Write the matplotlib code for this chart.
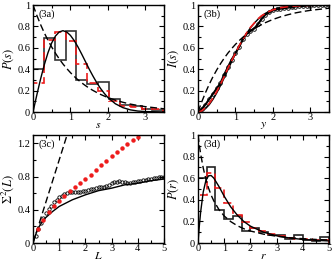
import matplotlib
matplotlib.use("Agg")
import matplotlib.pyplot as plt
from matplotlib.ticker import MultipleLocator, FormatStrFormatter

plt.rcParams["font.family"] = "Liberation Serif"
plt.rcParams["mathtext.fontset"] = "stix"
plt.rcParams["font.size"] = 7.5

# ---- (3a) spacing distribution ----
s_edges = [0, 0.29, 0.58, 0.87, 1.16, 1.45, 1.74, 2.03, 2.32, 2.61, 2.9, 3.19, 3.48]
hist_a_black = [0.40, 0.69, 0.49, 0.76, 0.30, 0.26, 0.28, 0.12, 0.07, 0.06, 0.03, 0.02]
hist_a_red = [0.27, 0.67, 0.75, 0.66, 0.45, 0.27, 0.20, 0.10, 0.06, 0.05, 0.03, 0.03]
s_curve = [0, 0.1, 0.2, 0.3, 0.4, 0.5, 0.6, 0.7, 0.8, 0.9, 1.0, 1.1, 1.2, 1.3, 1.4,
           1.5, 1.6, 1.7, 1.8, 1.9, 2.0, 2.2, 2.4, 2.6, 2.8, 3.0, 3.5]
wigner_a = [0, 0.156, 0.305, 0.439, 0.554, 0.646, 0.710, 0.748, 0.760, 0.748, 0.716,
            0.668, 0.609, 0.542, 0.472, 0.402, 0.337, 0.276, 0.222, 0.176, 0.136,
            0.077, 0.041, 0.020, 0.009, 0.004, 0.0004]
poisson_a = [1, 0.905, 0.819, 0.741, 0.670, 0.607, 0.549, 0.497, 0.449, 0.407, 0.368,
             0.333, 0.301, 0.273, 0.247, 0.223, 0.202, 0.183, 0.165, 0.150, 0.135,
             0.111, 0.091, 0.074, 0.061, 0.050, 0.030]

# ---- (3b) cumulative distribution ----
wigner_b = [0, 0.008, 0.031, 0.068, 0.118, 0.178, 0.246, 0.319, 0.395, 0.471, 0.544,
            0.613, 0.677, 0.735, 0.786, 0.829, 0.866, 0.897, 0.922, 0.941, 0.957,
            0.978, 0.989, 0.995, 0.998, 0.999, 1.0]
poisson_b = [0, 0.095, 0.181, 0.259, 0.330, 0.393, 0.451, 0.503, 0.551, 0.593, 0.632,
             0.667, 0.699, 0.727, 0.753, 0.777, 0.798, 0.817, 0.835, 0.850, 0.865,
             0.889, 0.909, 0.926, 0.939, 0.950, 0.970]
red_b = [0, 0.01, 0.04, 0.08, 0.13, 0.19, 0.26, 0.33, 0.41, 0.48, 0.55, 0.62, 0.68,
         0.74, 0.79, 0.83, 0.87, 0.90, 0.92, 0.94, 0.955, 0.975, 0.985, 0.99, 0.995,
         0.998, 0.999]
s_data = [0, 0.1, 0.2, 0.3, 0.4, 0.5, 0.6, 0.7, 0.8, 0.9, 1.0, 1.1, 1.2, 1.3, 1.4, 1.5,
          1.6, 1.7, 1.8, 1.9, 2.0, 2.1, 2.2, 2.3, 2.4, 2.5, 2.6, 2.7, 2.8, 2.9, 3.0,
          3.1, 3.2, 3.3, 3.4, 3.5]
cum_data = [0, 0.03, 0.07, 0.12, 0.17, 0.22, 0.27, 0.35, 0.42, 0.49, 0.55, 0.61, 0.68,
            0.73, 0.76, 0.78, 0.82, 0.87, 0.91, 0.93, 0.95, 0.96, 0.965, 0.97, 0.975,
            0.98, 0.985, 0.99, 0.99, 0.995, 0.995, 1.0, 1.0, 1.0, 1.0, 1.0]

# ---- (3c) number variance ----
L_poisson = [0, 1.4]
sig_poisson = [0, 1.4]
L_goe = [0, 0.05, 0.1, 0.2, 0.3, 0.4, 0.5, 0.75, 1.0, 1.5, 2.0, 2.5, 3.0, 3.5, 4.0, 4.5, 5.0]
sig_goe = [0, 0.05, 0.10, 0.18, 0.23, 0.28, 0.31, 0.38, 0.44, 0.52, 0.58, 0.63, 0.66,
           0.70, 0.72, 0.75, 0.77]
L_red = [0.2, 0.4, 0.6, 0.8, 1.0, 1.2, 1.4, 1.6, 1.8, 2.0, 2.2, 2.4, 2.6, 2.8, 3.0,
         3.2, 3.4, 3.6, 3.8, 4.0]
sig_red = [0.17, 0.28, 0.37, 0.44, 0.51, 0.57, 0.62, 0.67, 0.72, 0.77, 0.82, 0.88,
           0.94, 0.99, 1.05, 1.10, 1.14, 1.19, 1.24, 1.28]
L_data = [0.1, 0.2, 0.3, 0.4, 0.5, 0.6, 0.7, 0.8, 0.9, 1.0, 1.1, 1.2, 1.3, 1.4, 1.5,
          1.6, 1.7, 1.8, 1.9, 2.0, 2.1, 2.2, 2.3, 2.4, 2.5, 2.6, 2.7, 2.8, 2.9, 3.0,
          3.1, 3.2, 3.3, 3.4, 3.5, 3.6, 3.7, 3.8, 3.9, 4.0, 4.1, 4.2, 4.3, 4.4, 4.5,
          4.6, 4.7, 4.8, 4.9, 5.0]
sig_data = [0.09, 0.17, 0.24, 0.30, 0.36, 0.41, 0.45, 0.49, 0.52, 0.55, 0.57, 0.59,
            0.60, 0.61, 0.61, 0.61, 0.61, 0.61, 0.62, 0.63, 0.64, 0.65, 0.65, 0.66,
            0.67, 0.67, 0.68, 0.69, 0.70, 0.72, 0.73, 0.74, 0.75, 0.74, 0.73, 0.72,
            0.72, 0.73, 0.74, 0.75, 0.75, 0.76, 0.76, 0.77, 0.77, 0.78, 0.78, 0.79,
            0.79, 0.80]

# ---- (3d) ratio distribution ----
r_edges = [0, 0.333, 0.667, 1.0, 1.333, 1.667, 2.0, 2.333, 2.667, 3.0, 3.333, 3.667,
           4.0, 4.333, 4.667, 5.0]
hist_d_black = [0.60, 0.70, 0.31, 0.22, 0.25, 0.11, 0.135, 0.10, 0.07, 0.07, 0.035,
                0.07, 0.03, 0.02, 0.06]
hist_d_red = [0.44, 0.65, 0.51, 0.37, 0.26, 0.19, 0.14, 0.11, 0.08, 0.065, 0.05, 0.04,
              0.04, 0.03, 0.03]
r_curve = [0, 0.05, 0.1, 0.2, 0.3, 0.4, 0.5, 0.6, 0.8, 1.0, 1.25, 1.5, 1.75, 2.0,
           2.5, 3.0, 3.5, 4.0, 4.5, 5.0]
goe_d = [0, 0.156, 0.286, 0.473, 0.578, 0.622, 0.625, 0.602, 0.523, 0.433, 0.334,
         0.258, 0.199, 0.156, 0.100, 0.067, 0.046, 0.033, 0.025, 0.019]
poisson_d = [1, 0.907, 0.826, 0.694, 0.592, 0.510, 0.444, 0.391, 0.309, 0.25, 0.198,
             0.16, 0.132, 0.111, 0.082, 0.0625, 0.049, 0.04, 0.033, 0.028]

RED = "#ee1c1c"
DASH = (0, (5, 2.5))


def style(ax, xmax, ymax, xmaj, xmin, ymaj, ymin, label):
    ax.set_xlim(0, xmax)
    ax.set_ylim(0, ymax)
    ax.xaxis.set_major_locator(MultipleLocator(xmaj))
    ax.xaxis.set_minor_locator(MultipleLocator(xmin))
    ax.yaxis.set_major_locator(MultipleLocator(ymaj))
    ax.yaxis.set_minor_locator(MultipleLocator(ymin))
    ax.xaxis.set_major_formatter(FormatStrFormatter("%g"))
    ax.yaxis.set_major_formatter(FormatStrFormatter("%g"))
    ax.tick_params(which="both", direction="in", top=True, right=True,
                   labelsize=7.5, width=0.8)
    ax.tick_params(axis="x", pad=1)
    ax.tick_params(axis="y", pad=2)
    ax.tick_params(which="major", length=3.5)
    ax.tick_params(which="minor", length=2)
    for sp in ax.spines.values():
        sp.set_linewidth(1.0)
    ax.text(0.04, 0.96, label, transform=ax.transAxes, ha="left", va="top",
            fontsize=7.5)


def xlab(ax, text):
    ax.set_xlabel(text, fontsize=8.5, labelpad=-2.5)


fig = plt.figure(figsize=(3.32, 2.62), dpi=100)
ax1 = fig.add_axes([0.0994, 0.5725, 0.3946, 0.4084])
ax2 = fig.add_axes([0.5964, 0.5725, 0.3946, 0.4084])
ax3 = fig.add_axes([0.0994, 0.0725, 0.3946, 0.4122])
ax4 = fig.add_axes([0.5964, 0.0725, 0.3946, 0.4122])

# (3a)
ax1.stairs(hist_a_black, s_edges, color="#333333", lw=1.2)
ax1.stairs(hist_a_red, s_edges, color=RED, lw=1.2, linestyle=DASH)
ax1.plot(s_curve, wigner_a, color="black", lw=1.0)
ax1.plot(s_curve, poisson_a, color="black", lw=1.0, linestyle=DASH)
style(ax1, 3.5, 1, 1, 0.5, 0.2, 0.1, "(3a)")
xlab(ax1, "$s$")
ax1.set_ylabel("$P(s)$", fontsize=9, labelpad=1)

# (3b)
ax2.plot(s_data, cum_data, color="black", lw=1.5, marker="o", ms=2.6,
         mfc="none", mew=0.6)
ax2.plot(s_curve, wigner_b, color="black", lw=1.0)
ax2.plot(s_curve, red_b, color=RED, lw=1.2, linestyle=DASH)
ax2.plot(s_curve, poisson_b, color="black", lw=1.0, linestyle=DASH)
style(ax2, 3.5, 1, 1, 0.5, 0.2, 0.1, "(3b)")
xlab(ax2, "$y$")
ax2.set_ylabel("$I(s)$", fontsize=9, labelpad=1)

# (3c)
ax3.plot(L_poisson, sig_poisson, color="black", lw=1.0, linestyle=DASH)
ax3.plot(L_goe, sig_goe, color="black", lw=1.0)
ax3.plot(L_data, sig_data, linestyle="none", marker="o", ms=2.4, mfc="none",
         mec="black", mew=0.6)
ax3.plot(L_red, sig_red, linestyle="none", marker="o", ms=2.2, color=RED)
style(ax3, 5, 1.3, 1, 0.5, 0.4, 0.2, "(3c)")
xlab(ax3, "$L$")
ax3.set_ylabel(r"$\Sigma^2(L)$", fontsize=9, labelpad=1)

# (3d)
ax4.stairs(hist_d_black, r_edges, color="#222222", lw=1.2)
ax4.stairs(hist_d_red, r_edges, color=RED, lw=1.2, linestyle=DASH)
ax4.plot(r_curve, goe_d, color="black", lw=1.0)
ax4.plot(r_curve, poisson_d, color="black", lw=1.0, linestyle=DASH)
style(ax4, 5, 1, 1, 0.5, 0.2, 0.1, "(3d)")
xlab(ax4, "$r$")
ax4.set_ylabel("$P(r)$", fontsize=9, labelpad=1)

fig.savefig("out.png", dpi=100)
